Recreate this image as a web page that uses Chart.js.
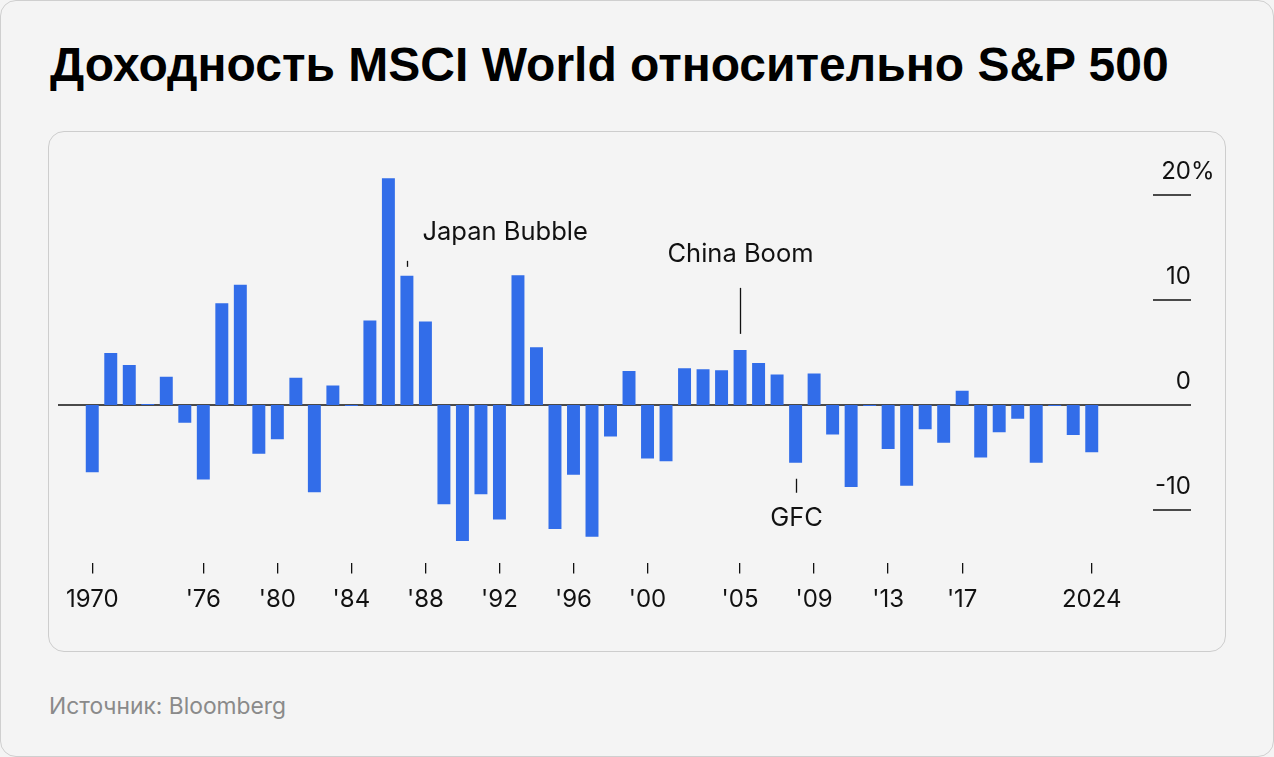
<!DOCTYPE html>
<html lang="ru">
<head>
<meta charset="utf-8">
<title>Доходность MSCI World относительно S&amp;P 500</title>
<script src="https://cdn.jsdelivr.net/npm/chart.js@4.4.1/dist/chart.umd.min.js"></script>
<style>
    html, body { margin: 0; padding: 0; background: #f4f4f4; }
    .frame { position: absolute; left: 0; top: 0; width: 1274px; height: 757px; box-sizing: border-box; border: 1px solid #cfcfcf; border-radius: 16px; background: #f4f4f4; }
    .title { position: absolute; left: 50px; top: 41px; margin: 0; font: 700 48px/48px "Liberation Sans", Arial, sans-serif; color: #000; white-space: nowrap; }
    .card { position: absolute; left: 48px; top: 131px; width: 1178px; height: 521px; box-sizing: border-box; border: 1px solid #cdcdcd; border-radius: 16px; }
    .source { position: absolute; left: 49px; top: 694px; font: 400 22.8px/24px Inter, sans-serif; color: #8a8a8a; white-space: nowrap; }
    #chart { position: absolute; left: 0; top: 0; }
</style>
</head>
<body>
<div class="frame"></div>
<div class="card"></div>
<h1 class="title">Доходность MSCI World относительно S&amp;P 500</h1>
<div class="source">Источник: Bloomberg</div>
<canvas id="chart" width="1274" height="757"></canvas>

<script>
// years on the x axis
const years = [
    1970, 1971, 1972, 1973, 1974, 1975, 1976, 1977, 1978, 1979,
    1980, 1981, 1982, 1983, 1984, 1985, 1986, 1987, 1988, 1989,
    1990, 1991, 1992, 1993, 1994, 1995, 1996, 1997, 1998, 1999,
    2000, 2001, 2002, 2003, 2004, 2005, 2006, 2007, 2008, 2009,
    2010, 2011, 2012, 2013, 2014, 2015, 2016, 2017, 2018, 2019,
    2020, 2021, 2022, 2023, 2024,
];

// MSCI World minus S&P 500, percentage points
const relReturn = [
    -6.4, 4.95, 3.8, 0.1, 2.7, -1.7, -7.1, 9.7, 11.45, -4.65,
    -3.25, 2.6, -8.3, 1.85, -0.1, 8.05, 21.6, 12.3, 7.95, -9.45,
    -12.95, -8.5, -10.9, 12.35, 5.5, -11.8, -6.65, -12.55, -3.0, 3.25,
    -5.1, -5.35, 3.5, 3.4, 3.3, 5.25, 4.0, 2.9, -5.5, 3.0,
    -2.8, -7.8, -0.1, -4.2, -7.7, -2.3, -3.6, 1.35, -5.0, -2.6,
    -1.3, -5.5, -0.1, -2.85, -4.5,
];

const tickYears = [1970, 1976, 1980, 1984, 1988, 1992, 1996, 2000, 2005, 2009, 2013, 2017, 2024];
const tickLabels = ["1970", "'76", "'80", "'84", "'88", "'92", "'96", "'00", "'05", "'09", "'13", "'17", "2024"];

const yTicks = [20, 10, 0, -10];
const yTickLabels = ["20", "10", "0", "-10"];

const noteYears = [1987, 2005, 2008];
const noteLabels = ["Japan Bubble", "China Boom", "GFC"];

// how each note sits relative to its bar (px)
const noteStyle = [
    {side: "top", gap: 9, len: 6, textGap: 36, align: "left", dx: 15},
    {side: "top", gap: 16, len: 46, textGap: 88, align: "center", dx: 0},
    {side: "bottom", gap: 16, len: 14, textGap: 63, align: "center", dx: 0},
];

const INK = "#111111";
const BAR_BLUE = "#326de9";
const FONT = "Inter, 'Noto Sans', sans-serif";

const overlay = {
    id: "overlay",
    beforeDatasetsDraw(chart) {
        const {ctx, chartArea, scales} = chart;
        const y0 = scales.y.getPixelForValue(0);
        ctx.save();
        ctx.strokeStyle = INK;
        ctx.lineWidth = 1.5;
        ctx.beginPath();
        ctx.moveTo(chartArea.left - 25, y0);
        ctx.lineTo(chartArea.right + 90, y0);
        ctx.stroke();
        ctx.restore();
    },
    afterDatasetsDraw(chart) {
        const {ctx, chartArea, scales} = chart;
        const x1 = chartArea.right + 52;
        const x2 = chartArea.right + 90;
        ctx.save();
        ctx.fillStyle = INK;
        ctx.strokeStyle = INK;
        ctx.font = "24px " + FONT;
        ctx.textBaseline = "alphabetic";

        // right-hand value axis
        yTicks.forEach(function (v, i) {
            const py = scales.y.getPixelForValue(v);
            if (v !== 0) {
                ctx.lineWidth = 1.5;
                ctx.beginPath();
                ctx.moveTo(x1, py);
                ctx.lineTo(x2, py);
                ctx.stroke();
            }
            ctx.textAlign = "right";
            ctx.fillText(yTickLabels[i], x2, py - 16);
            if (i === 0) {
                ctx.textAlign = "left";
                ctx.fillText("%", x2, py - 16);
            }
        });

        // annotations
        ctx.font = "25.5px " + FONT;
        ctx.lineWidth = 1.3;
        noteYears.forEach(function (yr, i) {
            const idx = years.indexOf(yr);
            const st = noteStyle[i];
            const px = Math.round(scales.x.getPixelForValue(idx)) + 0.5;
            const end = scales.y.getPixelForValue(relReturn[idx]);
            const dir = st.side === "top" ? -1 : 1;
            ctx.beginPath();
            ctx.moveTo(px, end + dir * st.gap);
            ctx.lineTo(px, end + dir * (st.gap + st.len));
            ctx.stroke();
            ctx.textAlign = st.align;
            ctx.fillText(noteLabels[i], px + st.dx, end + dir * st.textGap);
        });
        ctx.restore();
    },
};

new Chart(document.getElementById("chart"), {
    type: "bar",
    data: {
        labels: years,
        datasets: [
            {
                data: relReturn,
                backgroundColor: BAR_BLUE,
                borderWidth: 0,
                barPercentage: 0.7,
                categoryPercentage: 1,
            },
        ],
    },
    options: {
        responsive: false,
        animation: false,
        layout: {
            padding: {left: 83, right: 173, top: 174, bottom: 144.5},
        },
        plugins: {
            legend: {display: false},
            tooltip: {enabled: false},
        },
        scales: {
            x: {
                offset: true,
                border: {display: false},
                grid: {
                    offset: false,
                    drawOnChartArea: false,
                    drawTicks: true,
                    tickLength: 11,
                    lineWidth: 1.3,
                    color: function (c) {
                        return tickYears.includes(years[c.index]) ? INK : "rgba(0,0,0,0)";
                    },
                },
                ticks: {
                    autoSkip: false,
                    maxRotation: 0,
                    minRotation: 0,
                    padding: 12,
                    color: INK,
                    font: {family: FONT, size: 24},
                    callback: function (v, i) {
                        const k = tickYears.indexOf(years[i]);
                        return k >= 0 ? tickLabels[k] : "";
                    },
                },
                afterFit: function (s) {
                    s.height = 50;
                },
            },
            y: {
                display: false,
                min: -15,
                max: 22,
            },
        },
    },
    plugins: [overlay],
});
</script>
</body>
</html>
